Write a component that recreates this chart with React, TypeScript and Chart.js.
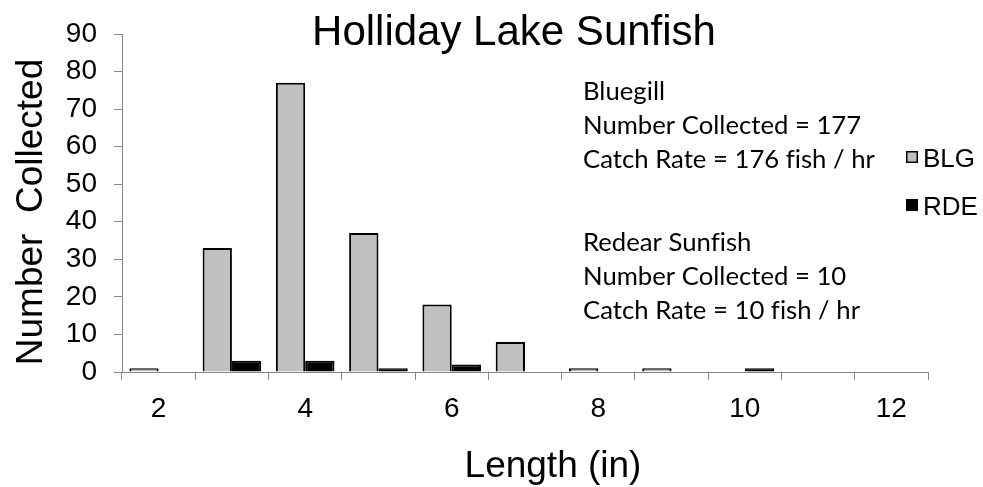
import React, { useEffect, useRef } from 'react';
import { Chart, registerables } from 'chart.js';

Chart.register(...registerables);

const lengths = ['2', '3', '4', '5', '6', '7', '8', '9', '10', '11', '12'];
const blgCounts = [1, 33, 77, 37, 18, 8, 1, 1, 0, 0, 0];
const rdeCounts = [0, 3, 3, 1, 2, 0, 0, 0, 1, 0, 0];
const labeledLengths = ['2', '4', '6', '8', '10', '12'];
const seriesNames = ['BLG', 'RDE'];
const seriesColors = ['#c0c0c0', '#000000'];

const titleText = 'Holliday Lake Sunfish';
const yTitleText = 'Number  Collected';
const xTitleText = 'Length (in)';
const bluegillNotes = ['Bluegill', 'Number Collected = 177', 'Catch Rate = 176 fish / hr'];
const redearNotes = ['Redear Sunfish', 'Number Collected = 10', 'Catch Rate = 10 fish / hr'];

const AXIS_COLOR = '#868686';
const SANS = '"Liberation Sans", Arial, sans-serif';

const overlayPlugin = {
  id: 'overlay',
  afterDraw(chart: any) {
    const ctx = chart.ctx as CanvasRenderingContext2D;
    ctx.save();
    ctx.fillStyle = '#000';

    // main title
    ctx.font = `42px ${SANS}`;
    ctx.textAlign = 'center';
    ctx.textBaseline = 'alphabetic';
    ctx.fillText(titleText, 514, 45);

    // x axis title
    ctx.font = `37px ${SANS}`;
    ctx.fillText(xTitleText, 553, 477);

    // y axis title
    ctx.save();
    ctx.translate(42, 212);
    ctx.rotate(-Math.PI / 2);
    ctx.fillText(yTitleText, 0, 0);
    ctx.restore();

    // annotations
    ctx.textAlign = 'left';
    (ctx as any).letterSpacing = '0.01px';
    ctx.font = `100px Lato`;
    const w = ctx.measureText(bluegillNotes[2]).width;
    const size = (100 * 292) / w;
    ctx.font = `${size}px Lato`;
    const bBase = [100, 134, 168];
    bluegillNotes.forEach((t, i) => ctx.fillText(t, 583, bBase[i]));
    const rBase = [251, 285, 319];
    redearNotes.forEach((t, i) => ctx.fillText(t, 583, rBase[i]));
    (ctx as any).letterSpacing = '0px';

    // legend
    const legendCenters = [157, 205];
    ctx.font = `26px ${SANS}`;
    seriesNames.forEach((name, i) => {
      const cy = legendCenters[i];
      ctx.fillStyle = seriesColors[i];
      ctx.fillRect(906, cy - 6, 12, 12);
      ctx.strokeStyle = '#000';
      ctx.lineWidth = 1.5;
      ctx.strokeRect(906.75, cy - 5.25, 10.5, 10.5);
      ctx.fillStyle = '#000';
      ctx.fillText(name, 923, cy + 10);
    });
    ctx.restore();
  },
};

export default function App() {
  const ref = useRef<HTMLCanvasElement>(null);
  useEffect(() => {
    if (!ref.current) return;
    const chart = new Chart(ref.current, {
      type: 'bar',
      data: {
        labels: lengths,
        datasets: [
          {
            label: seriesNames[0],
            data: blgCounts,
            backgroundColor: seriesColors[0],
            borderColor: '#000',
            borderWidth: 2,
            categoryPercentage: 0.8,
            barPercentage: 1.0,
          },
          {
            label: seriesNames[1],
            data: rdeCounts,
            backgroundColor: seriesColors[1],
            borderColor: '#000',
            borderWidth: 2,
            categoryPercentage: 0.8,
            barPercentage: 1.0,
          },
        ],
      },
      options: {
        responsive: false,
        animation: false,
        layout: { padding: { left: 0, right: 55, top: 34, bottom: 0 } },
        plugins: {
          legend: { display: false },
          title: { display: false },
          tooltip: { enabled: false },
        },
        scales: {
          x: {
            type: 'category',
            offset: true,
            grid: {
              offset: true,
              drawOnChartArea: false,
              drawTicks: true,
              tickLength: 8,
              color: AXIS_COLOR,
            },
            border: { color: AXIS_COLOR, width: 1 },
            ticks: {
              autoSkip: false,
              maxRotation: 0,
              minRotation: 0,
              padding: 12,
              color: '#000',
              font: { family: SANS, size: 28 },
              callback: (_v: any, i: number) =>
                labeledLengths.includes(lengths[i]) ? lengths[i] : '',
            },
            afterFit: (s: any) => {
              s.height = 115;
            },
          },
          y: {
            min: 0,
            max: 90,
            ticks: {
              stepSize: 10,
              padding: 17,
              color: '#000',
              font: { family: SANS, size: 28 },
            },
            grid: {
              drawOnChartArea: false,
              drawTicks: true,
              tickLength: 8,
              color: AXIS_COLOR,
            },
            border: { color: AXIS_COLOR, width: 1 },
            afterFit: (s: any) => {
              s.width = 122;
            },
          },
        },
      },
      plugins: [overlayPlugin],
    });
    return () => chart.destroy();
  }, []);

  return (
    <div style={{ position: 'fixed', left: 0, top: 0, width: 983, height: 487, background: '#fff' }}>
      <canvas ref={ref} width={983} height={487} />
    </div>
  );
}
